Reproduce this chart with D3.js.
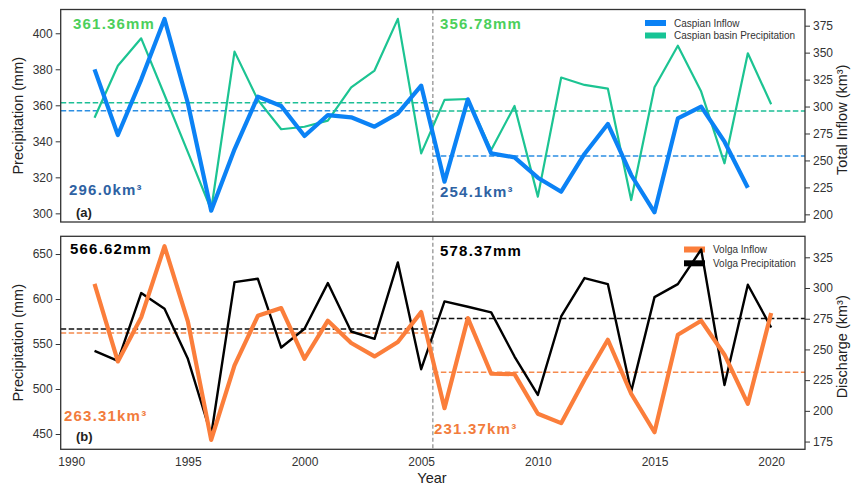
<!DOCTYPE html>
<html><head><meta charset="utf-8">
<script src="https://cdn.jsdelivr.net/npm/d3@7"></script>
<style>
body{margin:0;background:#fff;}
svg{display:block;font-family:"Liberation Sans",Arial,sans-serif;}
</style></head>
<body><svg id="c" width="854" height="486"></svg>
<script>
// ---- data ----
const years = [1991,1992,1993,1994,1995,1996,1997,1998,1999,2000,2001,2002,2003,2004,2005,
               2006,2007,2008,2009,2010,2011,2012,2013,2014,2015,2016,2017,2018,2019,2020];
const caspianPrecip = [353.1,382.0,397.2,365.7,334.0,302.0,389.8,363.0,346.7,348.1,351.5,370.0,379.3,408.0,333.3,
                       363.0,363.5,335.2,359.6,309.3,375.4,371.3,369.3,307.4,370.0,393.1,367.6,327.8,388.9,360.6];
const caspianInflow = [334.5,273.6,325.0,381.2,303.0,203.4,260.3,309.2,300.5,272.7,292.1,290.0,281.3,293.7,319.4,
                       230.3,306.7,256.6,252.9,234.0,221.0,256.0,283.8,236.5,201.9,289.0,299.9,267.4,224.7];
const volgaPrecip = [542.4,531.3,606.6,589.1,533.5,448.9,618.8,622.5,546.1,566.9,617.7,563.9,555.8,640.7,522.0,
                     597.3,591.4,585.1,536.1,493.4,580.6,623.3,616.6,497.1,602.1,616.6,655.0,504.5,615.9,568.4];
const volgaInflow = [303.3,240.2,276.1,334.0,272.8,176.4,237.0,277.4,283.7,242.4,273.4,255.2,244.3,256.0,280.4,
                     202.2,275.5,230.2,229.9,197.6,190.0,225.3,257.9,213.9,182.6,262.0,273.4,245.7,205.7,279.6];
const caspianPrecipMeans = [361.36, 356.78];
const caspianInflowMeans = [296.0, 254.1];
const volgaPrecipMeans = [566.62, 578.37];
const volgaInflowMeans = [263.31, 231.37];
const caspianPrecipLabels = ["361.36mm", "356.78mm"];
const caspianInflowLabels = ["296.0km³", "254.1km³"];
const volgaPrecipLabels = ["566.62mm", "578.37mm"];
const volgaInflowLabels = ["263.31km³", "231.37km³"];
const splitYear = 2005.5;
const xTicks = [1990,1995,2000,2005,2010,2015,2020];
const topLeftTicks = [300,320,340,360,380,400];
const topRightTicks = [200,225,250,275,300,325,350,375];
const botLeftTicks = [450,500,550,600,650];
const botRightTicks = [175,200,225,250,275,300,325];

// ---- layout ----
const svg = d3.select("#c");
const L = 60.7, R = 805;
const x = d3.scaleLinear().domain([1989.55, 2021.45]).range([L, R]);
const panels = [
  {top:9.5, bot:222, yl:[295.2,413.2], yr:[192.9,390],
   lt:topLeftTicks, rt:topRightTicks, ll:"Precipitation (mm)", rl:"Total Inflow (km³)",
   thin:{data:caspianPrecip, color:"#1cc492", w:2.2, means:caspianPrecipMeans, dash:"#1dbf96", lab:caspianPrecipLabels, tcol:"#4ccf5b"},
   thick:{data:caspianInflow, color:"#0b82f5", w:4.2, means:caspianInflowMeans, dash:"#2d8fe3", lab:caspianInflowLabels, tcol:"#2e62a3"},
   legend:[{t:"Caspian Inflow",c:"#0b82f5"},{t:"Caspian basin Precipitation",c:"#17c495"}],
   legX:645, legY:[23,35.5], tag:"(a)",
   thinLabPos:[[73,28.5],[440,28.5]], thickLabPos:[[69,195],[440,197]], xaxis:false},
  {top:236.3, bot:449.3, yl:[433,669.7], yr:[168.7,342.1],
   lt:botLeftTicks, rt:botRightTicks, ll:"Precipitation (mm)", rl:"Discharge (km³)",
   thin:{data:volgaPrecip, color:"#000", w:2.4, means:volgaPrecipMeans, dash:"#111", lab:volgaPrecipLabels, tcol:"#000"},
   thick:{data:volgaInflow, color:"#fb7e3b", w:4.2, means:volgaInflowMeans, dash:"#f58a4e", lab:volgaInflowLabels, tcol:"#f27c3c"},
   legend:[{t:"Volga Inflow",c:"#fb7e3b"},{t:"Volga Precipitation",c:"#000"}],
   legX:684, legY:[249.5,263.3], tag:"(b)",
   thinLabPos:[[70,254],[440,256]], thickLabPos:[[64,421],[434,434]], xaxis:true}
];

panels.forEach((p, pi) => {
  const yl = d3.scaleLinear().domain(p.yl).range([p.bot, p.top]);
  const yr = d3.scaleLinear().domain(p.yr).range([p.bot, p.top]);
  const g = svg.append("g");

  // legend (behind the lines)
  p.legend.forEach((e, i) => {
    g.append("rect").attr("x", p.legX).attr("y", p.legY[i]-3).attr("width", 21).attr("height", 6).attr("fill", e.c);
    g.append("text").attr("x", p.legX+29).attr("y", p.legY[i]+3.6).attr("font-size", 10).attr("fill", "#333").text(e.t);
  });

  // mean dashed lines
  const segs = [[x.domain()[0], splitYear], [splitYear, x.domain()[1]]];
  [[p.thin, yl], [p.thick, yr]].forEach(([s, ys]) => {
    segs.forEach((sg, k) => {
      g.append("line").attr("x1", x(sg[0])).attr("x2", x(sg[1]))
        .attr("y1", ys(s.means[k])).attr("y2", ys(s.means[k]))
        .attr("stroke", s.dash).attr("stroke-width", 1.5).attr("stroke-dasharray", "5.5,2.5");
    });
  });

  // vertical split line
  g.append("line").attr("x1", x(splitYear)).attr("x2", x(splitYear)).attr("y1", p.top).attr("y2", p.bot)
    .attr("stroke", "#8a8a8a").attr("stroke-width", 1.2).attr("stroke-dasharray", "4,2.5");

  // series lines
  const lineL = d3.line().x((d,i) => x(years[i])).y(d => yl(d));
  const lineR = d3.line().x((d,i) => x(years[i])).y(d => yr(d));
  g.append("path").attr("d", lineL(p.thin.data)).attr("fill", "none").attr("stroke", p.thin.color)
    .attr("stroke-width", p.thin.w).attr("stroke-linejoin", "round");
  g.append("path").attr("d", lineR(p.thick.data)).attr("fill", "none").attr("stroke", p.thick.color)
    .attr("stroke-width", p.thick.w).attr("stroke-linejoin", "round");

  // annotations
  const bold = (t, pos, col, fs, ls) => g.append("text").attr("x", pos[0]).attr("y", pos[1])
      .attr("font-size", fs).attr("font-weight", "bold").attr("letter-spacing", ls).attr("fill", col).text(t);
  p.thin.lab.forEach((t, k) => bold(t, p.thinLabPos[k], p.thin.tcol, 15, 1.2));
  p.thick.lab.forEach((t, k) => bold(t, p.thickLabPos[k], p.thick.tcol, 15, 1.2));
  bold(p.tag, [76, pi === 0 ? 216.5 : 441], "#222", 13, 0);

  // axes
  const axL = g.append("g").attr("transform", `translate(${L},0)`)
    .call(d3.axisLeft(yl).tickValues(p.lt).tickSize(5).tickPadding(3));
  const axR = g.append("g").attr("transform", `translate(${R},0)`)
    .call(d3.axisRight(yr).tickValues(p.rt).tickSize(5).tickPadding(3));
  [axL, axR].forEach(a => {
    a.select(".domain").remove();
    a.selectAll(".tick line").attr("stroke", "#333").attr("stroke-width", 1);
    a.selectAll(".tick text").attr("font-size", 12).attr("fill", "#333").attr("font-family", "Liberation Sans, Arial, sans-serif");
  });
  if (p.xaxis) {
    const axX = g.append("g").attr("transform", `translate(0,${p.bot})`)
      .call(d3.axisBottom(x).tickValues(xTicks).tickFormat(d3.format("d")).tickSize(0).tickPadding(8));
    axX.select(".domain").remove();
    axX.selectAll(".tick text").attr("font-size", 12).attr("fill", "#333").attr("font-family", "Liberation Sans, Arial, sans-serif");
  }

  // frame
  g.append("rect").attr("x", L).attr("y", p.top).attr("width", R-L).attr("height", p.bot-p.top)
    .attr("fill", "none").attr("stroke", "#333").attr("stroke-width", 1.3);

  // axis labels
  const cy = (p.top + p.bot) / 2;
  g.append("text").attr("transform", `translate(23,${cy}) rotate(-90)`).attr("text-anchor", "middle")
    .attr("font-size", 14.5).attr("fill", "#222").text(p.ll);
  g.append("text").attr("transform", `translate(847,${cy + 4}) rotate(-90)`).attr("text-anchor", "middle")
    .attr("font-size", 14.5).attr("fill", "#222").text(p.rl);
});

svg.append("text").attr("x", 432).attr("y", 483).attr("text-anchor", "middle")
  .attr("font-size", 14.5).attr("fill", "#222").text("Year");
</script></body></html>
